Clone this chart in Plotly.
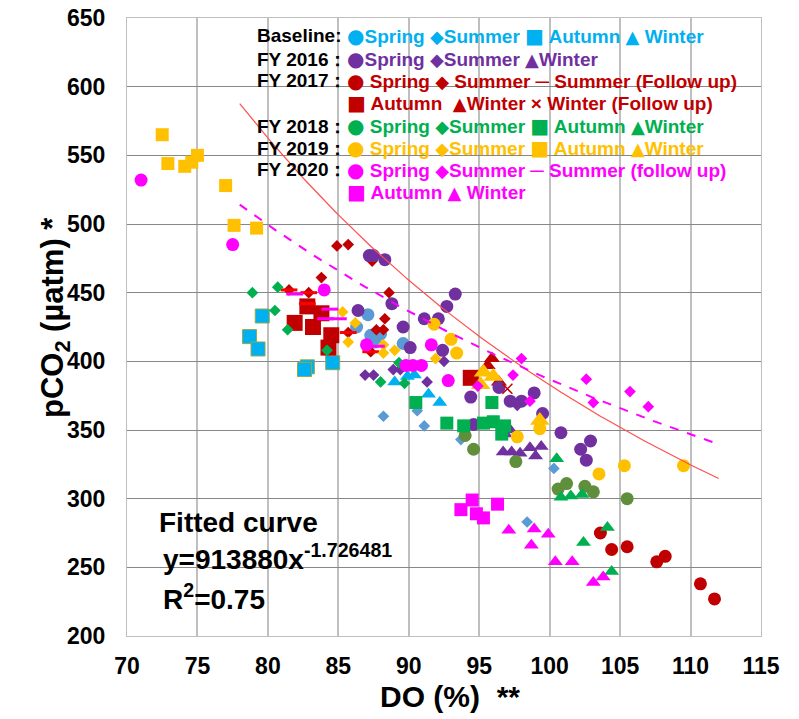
import numpy as np
import plotly.graph_objects as go

# ---------------- data ----------------
base_spring_x = [86.3, 87.1, 87.3, 88.0, 87.6, 89.6]
base_spring_y = [425, 434, 419, 420, 414, 413]
base_summer_x = [88.2, 90.6, 91.1, 93.7, 98.4, 100.3]
base_summer_y = [360, 364, 353, 343, 283, 322]
base_autumn_x = [79.6, 78.7, 79.3, 82.8, 82.6, 84.6]
base_autumn_y = [433, 418, 409, 396, 394, 399]
base_winter_x = [89.0, 89.9, 90.4, 91.4, 92.2]
base_winter_y = [385, 389, 390, 376, 370]

fy16_spring_x = [87.2, 87.5, 88.3, 88.8, 86.4, 89.6, 90.1, 91.1, 92.1, 92.7, 93.3, 92.4,
                 94.4, 94.6, 96.4, 97.2, 98.0, 98.9, 99.5, 100.8, 102.9, 102.2, 102.6]
fy16_spring_y = [477, 477, 474, 442, 437, 425, 410, 431, 431, 440, 449, 408,
                 374, 354, 381, 371, 371, 377, 362, 348, 342, 336, 328]
fy16_summer_x = [86.9, 87.5, 88.9, 89.4, 91.3, 92.5, 97.7]
fy16_summer_y = [390, 390, 394, 394, 385, 400, 368]
fy16_winter_x = [96.85, 97.2, 96.7, 97.3, 97.9, 98.6, 99.4, 99.0]
fy16_winter_y = [347, 350, 334, 334, 333, 337, 338, 331]

fy17_spring_x = [103.6, 104.4, 105.5, 107.6, 108.2, 110.7, 111.7]
fy17_spring_y = [275, 263, 265, 254, 258, 238, 227]
fy17_summer_x = [84.9, 85.7, 83.8, 81.5, 82.9, 88.6, 88.3, 87.7, 88.2, 85.7, 87.3, 87.4]
fy17_summer_y = [484, 485, 461, 452, 450, 450, 431, 423, 423, 421, 407, 473]
fy17_summer_fu_x = [81.5, 82.9, 82.8, 85.7, 87.3]
fy17_summer_fu_y = [452, 450, 442, 421, 407]
fy17_autumn_x = [82.8, 83.8, 81.9, 83.2, 84.5, 84.3, 94.4]
fy17_autumn_y = [440, 435, 428, 425, 419, 410, 388]
fy17_winter_x = [95.9, 95.6, 96.4]
fy17_winter_y = [402, 397, 385]
fy17_winter_fu_x = [97.0]
fy17_winter_fu_y = [380]

fy18_spring_x = [94.0, 94.6, 97.6, 100.6, 101.2, 102.5, 103.1, 105.5]
fy18_spring_y = [346, 336, 327, 307, 311, 309, 305, 300]
fy18_summer_x = [78.9, 80.7, 80.5, 81.4, 84.2, 88.0, 89.7, 89.3]
fy18_summer_y = [450, 454, 437, 423, 408, 385, 384, 399]
fy18_autumn_x = [90.5, 92.7, 93.9, 95.3, 95.9, 96.0, 96.8, 96.6]
fy18_autumn_y = [370, 355, 353, 355, 370, 356, 353, 347]
fy18_winter_x = [100.5, 100.8, 101.5, 102.3, 104.1, 102.4, 104.4]
fy18_winter_y = [329, 301, 302, 303, 279, 268, 247]

fy19_spring_x = [91.8, 93.0, 93.4, 97.7, 99.3, 103.5, 105.3, 109.5]
fy19_spring_y = [427, 416, 406, 345, 351, 318, 324, 324]
fy19_summer_x = [85.3, 86.2, 85.7, 88.2, 88.2, 89.0, 91.9]
fy19_summer_y = [436, 428, 414, 412, 406, 408, 402]
fy19_autumn_x = [72.5, 72.9, 74.1, 74.6, 75.0, 77.0, 77.6, 79.2]
fy19_autumn_y = [565, 544, 542, 545, 550, 528, 499, 497]
fy19_winter_x = [95.3, 95.1, 96.0, 99.3]
fy19_winter_y = [392, 383, 389, 357]

fy20_spring_x = [71.0, 77.5, 84.0, 87.0, 91.6, 92.8, 89.8, 90.3, 90.9]
fy20_spring_y = [532, 485, 452, 412, 412, 386, 397, 397, 397]
fy20_summer_x = [94.9, 98.0, 97.4, 98.6, 102.6, 103.1, 105.7, 107.0]
fy20_summer_y = [382, 402, 390, 371, 387, 370, 378, 367]
fy20_summer_fu_x = [81.9, 84.4, 84.1, 85.0, 87.7]
fy20_summer_fu_y = [449, 438, 431, 431, 411]
fy20_autumn_x = [93.7, 94.5, 94.8, 95.3, 96.3]
fy20_autumn_y = [292, 299, 289, 286, 296]
fy20_winter_x = [97.1, 98.9, 98.7, 99.9, 100.4, 101.6, 103.1, 103.8]
fy20_winter_y = [277, 278, 266, 274, 254, 254, 239, 243]

# fitted power curves (as drawn): y = a * x^b
fit_solid_a, fit_solid_b = 1.086e6, -1.726481
fit_dash_a, fit_dash_b = 75420, -1.145
fit_x_min, fit_x_max = 78, 112

x_ticks = [70, 75, 80, 85, 90, 95, 100, 105, 110, 115]
y_ticks = [200, 250, 300, 350, 400, 450, 500, 550, 600, 650]

# ---------------- styling ----------------
C_BASE_LIGHT = '#00B0F0'
C_BASE_STEEL = '#5B9BD5'
C_16 = '#7030A0'
C_17 = '#C00000'
C_17_FU = '#FF0000'
C_18 = '#00B050'
C_18_OLIVE = '#5F8F3A'
C_19 = '#FFC000'
C_20 = '#FF00FF'
FONT = 'Liberation Sans, Arial, sans-serif'

fig = go.Figure()


def add(x, y, symbol, color, size, line_color=None, line_width=0):
    fig.add_trace(go.Scatter(
        x=x, y=y, mode='markers', showlegend=False, hoverinfo='skip',
        marker=dict(symbol=symbol, color=color, size=size,
                    line=dict(color=line_color or color, width=line_width))))


fx = np.linspace(fit_x_min, fit_x_max, 200)

# Baseline
add(base_spring_x, base_spring_y, 'circle', C_BASE_STEEL, 13)
add(base_summer_x, base_summer_y, 'diamond', C_BASE_STEEL, 9)
add(base_autumn_x, base_autumn_y, 'square', C_BASE_LIGHT, 14, '#8FAA4A', 1)
add(base_winter_x, base_winter_y, 'triangle-up', C_BASE_LIGHT, 13)
# FY2017
add(fy17_spring_x, fy17_spring_y, 'circle', C_17, 13)
add(fy17_summer_x, fy17_summer_y, 'diamond', C_17, 9)
add(fy17_autumn_x, fy17_autumn_y, 'square', C_17, 16)
add(fy17_winter_x, fy17_winter_y, 'triangle-up', C_17, 14)
# FY2016
add(fy16_spring_x, fy16_spring_y, 'circle', C_16, 13)
add(fy16_summer_x, fy16_summer_y, 'diamond', C_16, 9)
add(fy16_winter_x, fy16_winter_y, 'triangle-up', C_16, 13)
# FY2017 follow-ups
add(fy17_summer_fu_x, fy17_summer_fu_y, 'line-ew', C_17_FU, 12, C_17_FU, 3)
add(fy17_winter_fu_x, fy17_winter_fu_y, 'x-thin', C_17, 10, C_17, 1.5)
# FY2018
add(fy18_spring_x, fy18_spring_y, 'circle', C_18_OLIVE, 13)
add(fy18_summer_x, fy18_summer_y, 'diamond', C_18, 9)
add(fy18_autumn_x, fy18_autumn_y, 'square', C_18, 13)
add(fy18_winter_x, fy18_winter_y, 'triangle-up', C_18, 13)
# FY2019
add(fy19_spring_x, fy19_spring_y, 'circle', C_19, 13)
add(fy19_summer_x, fy19_summer_y, 'diamond', C_19, 9)
add(fy19_autumn_x, fy19_autumn_y, 'square', C_19, 13)
add(fy19_winter_x, fy19_winter_y, 'triangle-up', C_19, 17)
# FY2020
add(fy20_spring_x, fy20_spring_y, 'circle', C_20, 13)
add(fy20_summer_x, fy20_summer_y, 'diamond', C_20, 9)
add(fy20_summer_fu_x, fy20_summer_fu_y, 'line-ew', C_20, 12, C_20, 3)
add(fy20_autumn_x, fy20_autumn_y, 'square', C_20, 13)
add(fy20_winter_x, fy20_winter_y, 'triangle-up', C_20, 13)

# fitted curves
fig.add_trace(go.Scatter(x=fx, y=fit_solid_a * fx ** fit_solid_b, mode='lines',
                         showlegend=False, hoverinfo='skip',
                         line=dict(color='#FF5050', width=1.2)))
fig.add_trace(go.Scatter(x=fx, y=fit_dash_a * fx ** fit_dash_b, mode='lines',
                         showlegend=False, hoverinfo='skip',
                         line=dict(color='#FF00FF', width=2, dash='dash')))

# ---------------- layout ----------------
W, H = 799, 719
PLOT_L, PLOT_R, PLOT_T, PLOT_B = 127, 761, 18, 636   # page pixels
L, T = PLOT_L, PLOT_T
R, B = W - PLOT_R, H - PLOT_B
PW, PH = W - L - R, H - T - B


def px_x(px):
    return (px - L) / PW


def px_y(py):
    return (H - B - py) / PH


annots = []


def ann(text, px, py, size, color='black', xanchor='left', angle=0):
    annots.append(dict(text=text, x=px_x(px), y=px_y(py), xref='paper', yref='paper',
                       xanchor=xanchor, yanchor='middle', showarrow=False, textangle=angle,
                       font=dict(family=FONT, size=size, color=color)))


def sym(ch, size=20):
    return f"<span style='font-family:DejaVu Sans;font-size:{size}px'>{ch}</span>"


CI, DI, SQ, TR = sym('●', 20), sym('◆', 18), sym('■', 20), sym('▲', 18)


def sp(color, txt):
    return f"<span style='color:{color}'>{txt}</span>"


LEG_SIZE = 19
lbl_x, sym_x = 255, 345
rows = [
    ('Baseline:', sp(C_BASE_LIGHT, f'{CI}Spring {DI}Summer {SQ} Autumn {TR} Winter'), 36),
    ('FY 2016：', sp(C_16, f'{CI}Spring {DI}Summer {TR}Winter'), 59),
    ('FY 2017：', sp(C_17, f'{CI} Spring {DI} Summer ─ Summer (Follow up)'), 81),
    ('', sp(C_17, f'{SQ} Autumn  {TR}Winter × Winter (Follow up)'), 103),
    ('FY 2018：', sp(C_18, f'{CI} Spring {DI}Summer {SQ} Autumn {TR}Winter'), 126),
    ('FY 2019：', sp(C_19, f'{CI} Spring {DI}Summer {SQ} Autumn {TR}Winter'), 148),
    ('FY 2020：', sp(C_20, f'{CI} Spring {DI}Summer ─ Summer (follow up)'), 170),
    ('', sp(C_20, f'{SQ} Autumn {TR} Winter'), 192),
]
for lbl, body, py in rows:
    if lbl:
        ann('<b>' + lbl + '</b>', lbl_x, py, LEG_SIZE)
    ann('<b>' + body + '</b>', sym_x, py, LEG_SIZE)

ann('<b>Fitted curve</b>', 157, 522, 28)
ann('<b>y=913880x<sup>-1.726481</sup></b>', 161, 557, 28)
ann('<b>R<sup>2</sup>=0.75</b>', 161, 597, 28)

ann('<b>DO (%)  **</b>', 450, 697, 30, xanchor='center')
ann('<b>pCO<sub>2</sub> (µatm) *</b>', 55, 318, 31, xanchor='center', angle=-90)

fig.update_layout(
    width=W, height=H, autosize=False,
    margin=dict(l=L, r=R, t=T, b=B, pad=0, autoexpand=False),
    paper_bgcolor='white', plot_bgcolor='white',
    font=dict(family=FONT, color='black'),
    annotations=annots,
    xaxis=dict(range=[70, 115], tickvals=x_ticks, ticktext=[f'<b>{v}</b>' for v in x_ticks],
               showgrid=True, gridcolor='#BFBFBF', gridwidth=1.5, zeroline=False,
               showline=True, mirror=True, linecolor='#BFBFBF', linewidth=1,
               ticks='', tickfont=dict(size=23, family=FONT, color='black'),
               ticklabelstandoff=9, ticklabeloverflow='allow', automargin=False),
    yaxis=dict(range=[200, 650], tickvals=y_ticks, ticktext=[f'<b>{v}</b>' for v in y_ticks],
               showgrid=True, gridcolor='#878787', gridwidth=1, zeroline=False,
               showline=True, mirror=True, linecolor='#BFBFBF', linewidth=1,
               ticks='', tickfont=dict(size=23, family=FONT, color='black'),
               ticklabelstandoff=16, ticklabeloverflow='allow', automargin=False),
)

fig.write_html('out.html', config={'displayModeBar': False},
               post_script="document.body.style.margin='0px';document.body.style.overflow='hidden';")
